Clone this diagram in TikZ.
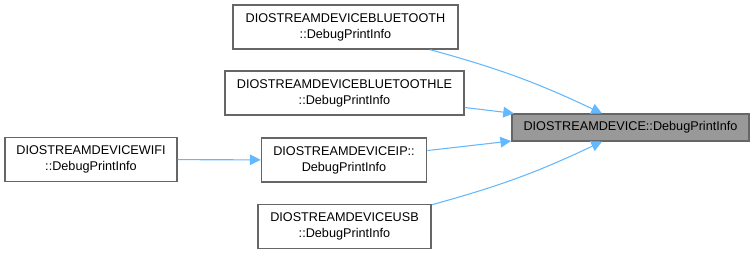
\documentclass[tikz,border=0pt]{standalone}
\usepackage{fontspec}
\setmainfont{Liberation Sans}
\usepackage{xcolor}
\usetikzlibrary{arrows.meta,positioning}
\definecolor{edgeblue}{HTML}{63B8FF}
\definecolor{boxgray}{HTML}{666666}
\definecolor{mainfill}{HTML}{999999}

\begin{document}
\begin{tikzpicture}[x=0.75pt,y=-0.75pt,->,>={Triangle[length=8pt,width=8pt]},
          font=\fontsize{9.5}{12}\selectfont]
            \tikzstyle{fn}=[draw=boxgray, line width=1.1pt, fill=white, align=center, inner sep=0pt, minimum height=33pt]
            \tikzstyle{call}=[color=edgeblue, line width=0.8pt]
            \useasboundingbox (0,0) rectangle (755,253);
            \node[fn, fill=mainfill, minimum width=178pt, minimum height=20pt] (main) at (630.5,127.5) {DIOSTREAMDEVICE::DebugPrintInfo};
            \node[fn, minimum width=169pt] (bt) at (345.5,27) {DIOSTREAMDEVICEBLUETOOTH\\::DebugPrintInfo};
            \node[fn, minimum width=179pt] (btle) at (344.5,93) {DIOSTREAMDEVICEBLUETOOTHLE\\::DebugPrintInfo};
            \node[fn, minimum width=124pt] (ip) at (344,160) {DIOSTREAMDEVICEIP::\\DebugPrintInfo};
            \node[fn, minimum width=130pt] (usb) at (344.5,226.5) {DIOSTREAMDEVICEUSB\\::DebugPrintInfo};
            \node[fn, minimum width=129pt] (wifi) at (91,159.5) {DIOSTREAMDEVICEWIFI\\::DebugPrintInfo};
            \path[call] (bt.-15) edge [bend left=5] (main)
                  (btle) edge (main)
                  (ip) edge (main)
                  (usb.14) edge [bend right=5] (main)
                  (wifi) edge (ip);
        \end{tikzpicture}
\end{document}
